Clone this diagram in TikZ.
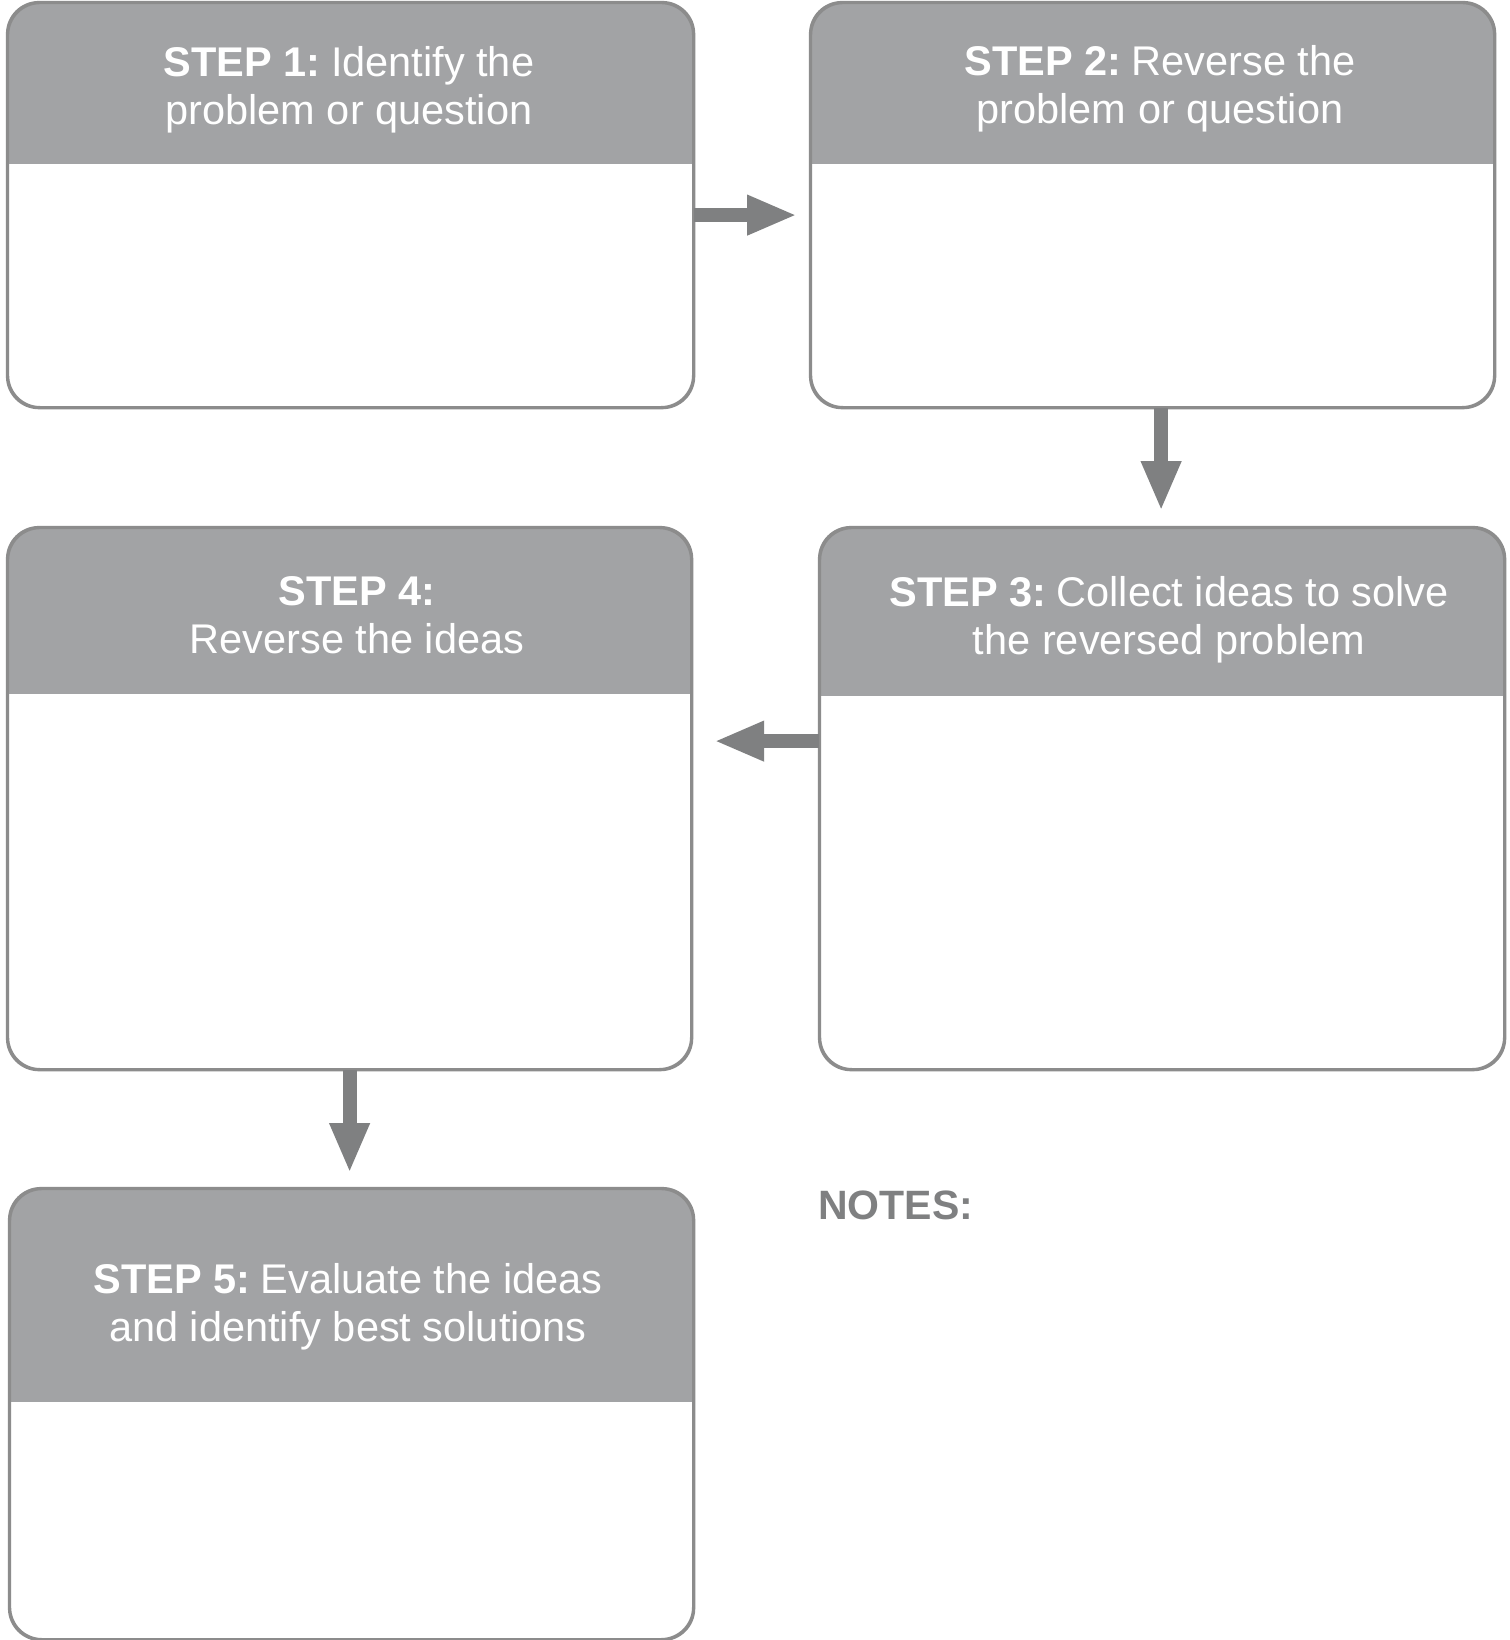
\documentclass[tikz,border=0pt]{standalone}
\usepackage{fontspec}
\setmainfont{Liberation Sans}
\usetikzlibrary{arrows.meta}
\definecolor{headgray}{HTML}{A2A3A5}
\definecolor{edgegray}{HTML}{8C8C8C}
\definecolor{arrowgray}{HTML}{7F8081}
\tikzset{
  stepbox/.style 2 args={draw=edgegray, line width=2.2pt, fill=white, rounded corners=32pt,
    minimum width=#1, minimum height=#2, inner sep=0pt, anchor=north west},
  header/.style={path picture={\fill[headgray, sharp corners] (path picture bounding box.north west) rectangle ([yshift=-#1]path picture bounding box.north east);}},
  steptext/.style={text=white, align=center, font=\fontsize{41.5}{48}\selectfont, inner sep=0pt},
  flow/.style={draw=arrowgray, line width=14pt, -{Triangle[length=50pt,width=37pt]}},
}
\begin{document}
\begin{tikzpicture}[x=1pt,y=-1pt]
\useasboundingbox (0,0) rectangle (1509,1640);
\fill[white] (0,0) rectangle (1509,1640);
% boxes
\node[stepbox={685pt}{404pt}, header=161pt] (s1) at (7,2) {};
\node[stepbox={683pt}{404pt}, header=161pt] (s2) at (810,2) {};
\node[stepbox={684pt}{541pt}, header=168pt] (s3) at (819,527) {};
\node[stepbox={683pt}{541pt}, header=166pt] (s4) at (7,527) {};
\node[stepbox={683pt}{450pt}, header=213pt] (s5) at (9,1188) {};
% redraw outlines over headers
\foreach \b in {s1,s2,s3,s4,s5}{
  \draw[edgegray, line width=2.2pt, rounded corners=32pt] (\b.north west) rectangle (\b.south east);
}
% header texts
\node[steptext] (t1) at (349,90) {\textbf{STEP 1:}\hspace{-0.12em} Identify the\\problem or question};
\node[steptext] (t2) at (1160,89) {\textbf{STEP 2:}\hspace{-0.12em} Reverse the\\problem or question};
\node[steptext] (t3) at (1169,620) {\textbf{STEP 3:}\hspace{-0.12em} Collect ideas to solve\\the reversed problem};
\node[steptext] (t4) at (357,615) {\textbf{STEP 4:}\\Reverse the ideas};
\node[steptext] (t5) at (348,1307) {\textbf{STEP 5:}\hspace{-0.12em} Evaluate the ideas\\and identify best solutions};
% notes
\node[text=arrowgray, font=\fontsize{41}{48}\selectfont\bfseries, anchor=west, inner sep=0pt] (notes) at (818,1205) {NOTES:};
% connector ends
\coordinate (a1) at ([yshift=-10pt]s1.east);
\coordinate (b1) at ([xshift=-13pt]s2.west);
\coordinate (a2) at ([xshift=8.5pt]s2.south);
\coordinate (b2) at ([yshift=16pt]s3.north);
\coordinate (a3) at ([yshift=57.5pt]s3.west);
\coordinate (b3) at ([xshift=22pt]s4.east);
\coordinate (a4) at (s4.south);
\coordinate (b4) at ([yshift=15pt]s5.north);
% connectors
\draw[flow] (a1) -- (a1 -| b1);
\draw[flow] (a2) -- (a2 |- b2);
\draw[flow] (a3) -- (a3 -| b3);
\draw[flow] (a4) -- (a4 |- b4);
\end{tikzpicture}
\end{document}
